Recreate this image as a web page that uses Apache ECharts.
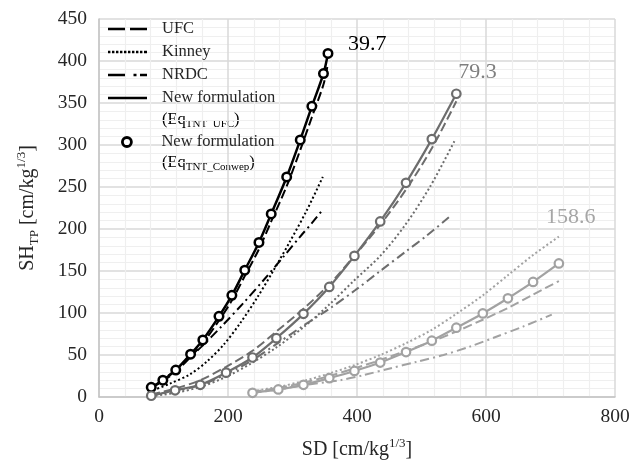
<!DOCTYPE html>
<html>
<head>
<meta charset="utf-8">
<script src="https://cdn.jsdelivr.net/npm/echarts@6/dist/echarts.min.js"></script>
<style>html,body{margin:0;padding:0;background:#fff}#c{width:644px;height:470px}</style>
</head>
<body>
<div id="c"></div>
<script>
// ---- data ----
// charge height 39.7
const sd40 = [81, 99, 119, 142, 161, 186, 206, 226, 248, 267, 291, 312, 330, 348, 355];
const newUfc40 = [11.5, 20, 32, 51, 68, 96, 121, 151, 184, 218, 262, 306, 346, 385, 409];
const conwep40 = [11.5, 20, 32, 51, 68, 96, 121, 151, 184, 218, 262, 306, 346, 385, 409];
const ufc40 = [11, 19, 30, 48, 64, 91, 115, 144, 176, 209, 251, 294, 333, 372, 397];
const sdKinney40 = [84, 110, 141, 167, 193, 219, 245, 270, 296, 322, 347];
const kinney40 = [8, 16, 27, 42, 62, 88, 118, 150, 185, 222, 262];
const sdNrdc40 = [84, 128, 159, 190, 224, 255, 286, 312, 330, 348];
const nrdc40 = [12, 38, 60, 84, 112, 139, 167, 191, 207, 224];
// charge height 79.3
const sd79 = [81, 118, 157, 197, 238, 275, 317, 357, 396, 436, 476, 516, 554];
const newUfc79 = [1.5, 8, 14.5, 29, 47, 70, 99, 131, 168, 209, 255, 307, 361];
const conwep79 = [1.5, 8, 14.5, 29, 47, 70, 99, 131, 168, 209, 255, 307, 361];
const ufc79 = [3, 10, 20, 36, 55, 78, 105, 134, 168, 205, 247, 296, 352];
const sdKinney79 = [81, 118, 157, 197, 238, 275, 317, 357, 396, 436, 474, 513, 552];
const kinney79 = [1, 5, 12, 24, 41, 59, 83, 110, 139, 168, 204, 250, 306];
const sdNrdc79 = [81, 118, 157, 197, 238, 275, 317, 357, 397, 436, 477, 508, 544];
const nrdc79 = [2, 7, 14, 27, 44, 63, 85, 105, 127, 150, 174, 192, 215];
// charge height 158.6
const sd159 = [238, 278, 317, 357, 396, 436, 476, 516, 554, 595, 634, 673, 713];
const newUfc159 = [5, 9, 14.5, 22.5, 31, 41, 53.5, 67, 82.5, 99.5, 117.5, 137, 159];
const conwep159 = [5, 9, 14.5, 22.5, 31, 41, 53.5, 67, 82.5, 99.5, 117.5, 137, 159];
const ufc159 = [6, 11, 17, 25, 34, 44, 55, 66, 78, 92, 106, 122, 138];
const kinney159 = [7, 12, 19, 28, 38, 50, 64, 80, 99, 121, 145, 169, 191];
const sdNrdc159 = [238, 278, 317, 374, 410, 451, 493, 534, 575, 617, 658, 702];
const nrdc159 = [5, 9, 14, 20, 26, 34, 42, 50, 60, 72, 84, 98];
// labels and ticks
const heightLabels = ['39.7', '79.3', '158.6'];
const xTicks = [0, 200, 400, 600, 800];
const yTicks = [0, 50, 100, 150, 200, 250, 300, 350, 400, 450];

// ---- styling ----
const FONT = 'Liberation Serif';
const C40 = '#000000', C79 = '#6d6d6d', C159 = '#a2a2a2';
const DASH = [9, 4], DOT = [2, 2.5], DASHDOT = [9, 4, 2, 4];
const zip = (xs, ys) => xs.map((x, i) => [x, ys[i]]);

function lineSeries(name, xs, ys, color, type, width, z) {
  return {
    name, type: 'line', data: zip(xs, ys), symbol: 'none', smooth: 0.3,
    lineStyle: {color, width, type}, itemStyle: {color}, z: z || 2,
    emphasis: {disabled: true}, silent: true
  };
}
function circleSeries(name, xs, ys, color, bw) {
  return {
    name, type: 'scatter', data: zip(xs, ys), symbol: 'circle', symbolSize: 8.5,
    itemStyle: {color: '#ffffff', borderColor: color, borderWidth: bw, opacity: 1},
    z: 5, emphasis: {disabled: true}, silent: true
  };
}
function withEndLabel(s, text, color, offset) {
  s.endLabel = {show: true, formatter: text, color, fontFamily: FONT, fontSize: 22, distance: 0, offset};
  return s;
}

const N_UFC = 'UFC', N_K = 'Kinney', N_N = 'NRDC', N_NEW = 'New formulation (EqTNT_UFC)', N_CW = 'New formulation (EqTNT_Conwep)';

const series = [
  lineSeries(N_UFC, sd40, ufc40, C40, DASH, 2),
  lineSeries(N_K, sdKinney40, kinney40, C40, DOT, 2),
  lineSeries(N_N, sdNrdc40, nrdc40, C40, DASHDOT, 2),
  withEndLabel(lineSeries(N_NEW, sd40, newUfc40, C40, 'solid', 2.5, 3), heightLabels[0], '#000000', [20, -9]),
  lineSeries('UFC 79.3', sd79, ufc79, C79, DASH, 2),
  lineSeries('Kinney 79.3', sdKinney79, kinney79, C79, DOT, 2),
  lineSeries('NRDC 79.3', sdNrdc79, nrdc79, C79, DASHDOT, 2),
  withEndLabel(lineSeries('New 79.3', sd79, newUfc79, C79, 'solid', 2.2, 3), heightLabels[1], '#7f7f7f', [2, -22]),
  lineSeries('UFC 158.6', sd159, ufc159, C159, DASH, 2),
  lineSeries('Kinney 158.6', sd159, kinney159, C159, DOT, 2),
  lineSeries('NRDC 158.6', sdNrdc159, nrdc159, C159, DASHDOT, 2),
  withEndLabel(lineSeries('New 158.6', sd159, newUfc159, C159, 'solid', 2.2, 3), heightLabels[2], '#a6a6a6', [-13, -46]),
  circleSeries(N_CW, sd40, conwep40, C40, 2.5),
  circleSeries('Conwep 79.3', sd79, conwep79, C79, 2.2),
  circleSeries('Conwep 158.6', sd159, conwep159, C159, 2.2)
];

// legend sample icons (line patterns)
const ICON_UFC = 'path://M0,0h17v2.6h-17zM22,0h17v2.6h-17z';
let dots = '';
for (let x = 0; x <= 36; x += 4) dots += 'M' + x + ',0h2.4v2.6h-2.4z';
const ICON_KINNEY = 'path://' + dots + 'M36.6,0h2.4v2.6h-2.4z';
const ICON_NRDC = 'path://M0,0h17v2.6h-17zM25.5,0h3v2.6h-3zM32,0h7v2.6h-7z';
const ICON_SOLID = 'path://M0,0h39v2.6h-39z';

const legendText = {fontFamily: FONT, fontSize: 16.5, color: '#262626', lineHeight: 23, padding: [0, 0, 0, 10]};
const subRich = {
  a: {fontFamily: FONT, fontSize: 16.5, lineHeight: 20, color: '#262626'},
  s: {fontFamily: FONT, fontSize: 11, lineHeight: 11, verticalAlign: 'bottom', color: '#262626'}
};
const axisRich = {
  a: {fontFamily: FONT, fontSize: 20, lineHeight: 26, color: '#262626'},
  sup: {fontFamily: FONT, fontSize: 13, lineHeight: 13, verticalAlign: 'top', color: '#262626'},
  sub: {fontFamily: FONT, fontSize: 13, lineHeight: 13, verticalAlign: 'bottom', color: '#262626'}
};
const blackIcon = {color: C40, borderWidth: 0};

const option = {
  animation: false,
  backgroundColor: '#ffffff',
  grid: {left: 99, right: 29, top: 19, bottom: 73, containLabel: false},
  xAxis: {
    type: 'value', min: xTicks[0], max: xTicks[xTicks.length - 1], interval: 200,
    name: '{a|SD [cm/kg}{sup|1/3}{a|]}', nameLocation: 'middle', nameGap: 40,
    nameTextStyle: {rich: axisRich},
    axisLine: {show: true, lineStyle: {color: '#c4c4c4', width: 1.5}},
    axisTick: {show: false},
    axisLabel: {fontFamily: FONT, fontSize: 19.5, color: '#262626', margin: 10},
    splitLine: {show: true, lineStyle: {color: '#d9d9d9', width: 1.5}},
    minorTick: {show: false, splitNumber: 5},
    minorSplitLine: {show: true, lineStyle: {color: '#efefef', width: 1.2}}
  },
  yAxis: {
    type: 'value', min: yTicks[0], max: yTicks[yTicks.length - 1], interval: 50,
    name: '{a|SH}{sub|TP}{a| [cm/kg}{sup|1/3}{a|]}', nameLocation: 'middle', nameGap: 58,
    nameTextStyle: {rich: axisRich},
    axisLine: {show: true, lineStyle: {color: '#c4c4c4', width: 1.5}},
    axisTick: {show: false},
    axisLabel: {fontFamily: FONT, fontSize: 19.5, color: '#262626', margin: 12},
    splitLine: {show: true, lineStyle: {color: '#d9d9d9', width: 1.5}},
    minorTick: {show: false, splitNumber: 5},
    minorSplitLine: {show: true, lineStyle: {color: '#efefef', width: 1.2}}
  },
  legend: [
    {
      orient: 'vertical', left: 108, top: 17.5, padding: 0, itemGap: 0,
      itemWidth: 39, itemHeight: 10, selectedMode: false,
      textStyle: legendText,
      formatter: n => (n === N_NEW ? 'New formulation' : n),
      data: [
        {name: N_UFC, icon: ICON_UFC, itemStyle: blackIcon},
        {name: N_K, icon: ICON_KINNEY, itemStyle: blackIcon},
        {name: N_N, icon: ICON_NRDC, itemStyle: blackIcon},
        {name: N_NEW, icon: ICON_SOLID, itemStyle: blackIcon}
      ]
    },
    {
      orient: 'vertical', left: 121, top: 130.5, padding: 0, itemGap: 0,
      itemWidth: 39, itemHeight: 9, selectedMode: false,
      textStyle: legendText,
      formatter: () => 'New formulation',
      data: [{name: N_CW, icon: 'circle', itemStyle: {color: '#ffffff', borderColor: C40, borderWidth: 2.8}}]
    }
  ],
  graphic: [
    {type: 'text', x: 162, y: 120, silent: true,
     style: {text: '{a|(Eq}{s|TNT_UFC}{a|)}', rich: subRich, verticalAlign: 'middle', align: 'left'}},
    {type: 'text', x: 162, y: 163, silent: true,
     style: {text: '{a|(Eq}{s|TNT_Conwep}{a|)}', rich: subRich, verticalAlign: 'middle', align: 'left'}}
  ],
  series
};

const chart = echarts.init(document.getElementById('c'), null, {renderer: 'canvas'});
chart.setOption(option);
</script>
</body>
</html>
